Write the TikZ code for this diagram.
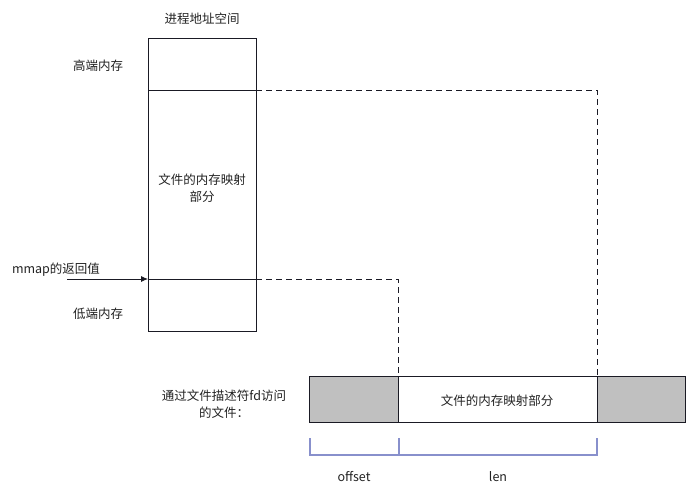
\documentclass[tikz,border=0pt]{standalone}
\usepackage{fontspec}
\setmainfont{Noto Sans CJK SC}
\usetikzlibrary{arrows.meta}
\definecolor{edge}{HTML}{1A1A24}
\definecolor{grayfill}{HTML}{C0C0C0}
\definecolor{bracecol}{HTML}{8890CC}
\definecolor{txt}{HTML}{222222}
\tikzset{
  lbl/.style={font=\fontsize{12.5}{16.5}\selectfont, text=txt, inner sep=0pt, align=center},
  boxline/.style={draw=edge, line width=0.8pt},
  guide/.style={draw=edge, line width=0.8pt, dash pattern=on 6pt off 4pt},
  bracketline/.style={draw=bracecol, line width=1.2pt},
}
\begin{document}
\begin{tikzpicture}[x=1pt,y=-1pt]
\useasboundingbox (0,0) rectangle (687,493);
% process address space
\coordinate (pTL) at (148,38);
\coordinate (pBR) at (256,331);
\coordinate (pHighL) at (148,90);
\coordinate (pHighR) at (256,90);
\coordinate (pLowL) at (148,279);
\coordinate (pLowR) at (256,279);
\draw[boxline] (pTL) rectangle (pBR);
\draw[boxline] (pHighL) -- (pHighR);
\draw[boxline] (pLowL) -- (pLowR);
% file bar
\coordinate (fB) at (398,376);
\coordinate (fC) at (597,376);
\fill[grayfill] (309,376) rectangle (398,422);
\fill[grayfill] (597,376) rectangle (685,422);
\draw[boxline] (309,376) rectangle (685,422);
\draw[boxline] (fB) -- (398,422);
\draw[boxline] (fC) -- (597,422);
% dashed guides
\draw[guide] (pHighR) -- (597,90) -- (fC);
\draw[guide] (pLowR) -- (398,279) -- (fB);
% arrow
\coordinate (arrStart) at (67,279);
\draw[draw=edge, line width=0.8pt, -{Latex[length=7pt,width=6pt]}] (arrStart) -- (pLowL);
% brackets
\draw[bracketline] (310,438) -- (310,455) -- (597,455) -- (597,438);
\draw[bracketline] (399,438) -- (399,455);
% labels
\node[lbl] (title) at (202,19) {进程地址空间};
\node[lbl] (high) at (98,66) {高端内存};
\node[lbl] (low) at (98,314) {低端内存};
\node[lbl] (mapped) at (202,188) {文件的内存映射\\部分};
\node[lbl] (ret) at (56,270) {mmap的返回值};
\node[lbl] (fileTxt) at (224,404) {通过文件描述符fd访问\\的文件：};
\node[lbl] (fileMap) at (497,401) {文件的内存映射部分};
\node[lbl] (offset) at (354,477) {offset};
\node[lbl] (len) at (498,477) {len};
\end{tikzpicture}
\end{document}
